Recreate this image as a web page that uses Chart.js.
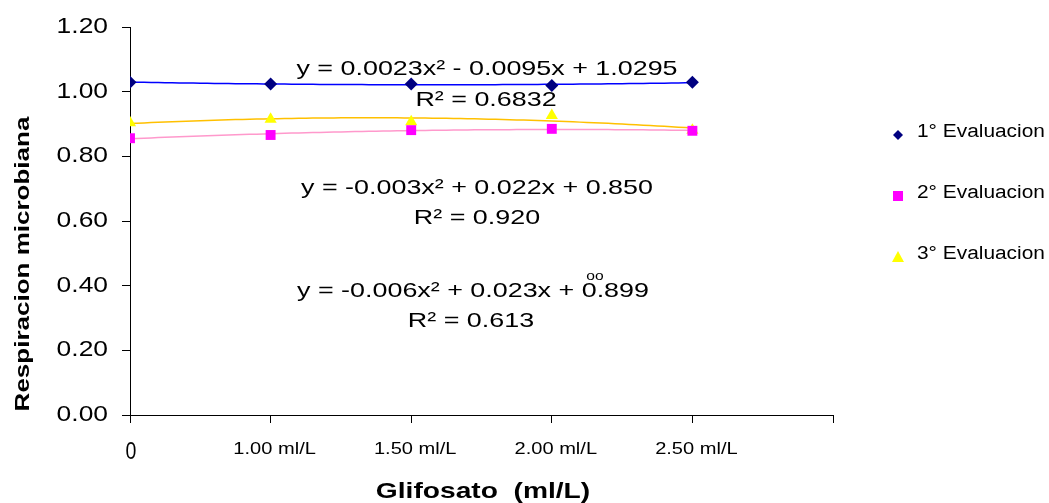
<!DOCTYPE html>
<html>
<head>
<meta charset="utf-8">
<script src="https://cdn.jsdelivr.net/npm/chart.js@4/dist/chart.umd.min.js"></script>
<style>
html, body { margin: 0; padding: 0; background: #fff; }
#wrap { width: 1049px; height: 503px; }
</style>
</head>
<body>
<div id="wrap"><canvas id="chart"></canvas></div>
<script>
// categories on the x axis (last slot is empty)
var categories = ["0", "1.00 ml/L", "1.50 ml/L", "2.00 ml/L", "2.50 ml/L", ""];
var seriesNames = ["1\u00b0 Evaluacion", "2\u00b0 Evaluacion", "3\u00b0 Evaluacion"];
var eval1 = [1.029, 1.024, 1.024, 1.019, 1.029];
var eval2 = [0.856, 0.866, 0.881, 0.885, 0.879];
var eval3 = [0.904, 0.915, 0.907, 0.926, 0.881];
var yTicks = [0, 0.2, 0.4, 0.6, 0.8, 1.0, 1.2];
var equations = [
  ["y = 0.0023x\u00b2 - 0.0095x + 1.0295", "R\u00b2 = 0.6832"],
  ["y = -0.003x\u00b2 + 0.022x + 0.850", "R\u00b2 = 0.920"],
  ["y = -0.006x\u00b2 + 0.023x + 0.899", "R\u00b2 = 0.613"]
];

var markColors = ["#000080", "#ff00ff", "#ffff00"];
var lineColors = ["#0000ff", "#ff99cc", "#ffc000"];
var FONT = "Arial, 'Liberation Sans', sans-serif";

// least squares quadratic through the points (x = category index)
function quadFit(ys) {
  var s = [0, 0, 0, 0, 0], t = [0, 0, 0];
  ys.forEach(function (y, x) {
    for (var k = 0; k < 5; k++) s[k] += Math.pow(x, k);
    for (var k = 0; k < 3; k++) t[k] += Math.pow(x, k) * y;
  });
  var m = [[s[0], s[1], s[2], t[0]], [s[1], s[2], s[3], t[1]], [s[2], s[3], s[4], t[2]]];
  for (var i = 0; i < 3; i++) {
    for (var j = i + 1; j < 3; j++) {
      var f = m[j][i] / m[i][i];
      for (var k = i; k < 4; k++) m[j][k] -= f * m[i][k];
    }
  }
  var c = [0, 0, 0];
  for (var i = 2; i >= 0; i--) {
    var v = m[i][3];
    for (var k = i + 1; k < 3; k++) v -= m[i][k] * c[k];
    c[i] = v / m[i][i];
  }
  return c;
}

function trend(ys) {
  var c = quadFit(ys), pts = [];
  for (var x = 0; x <= ys.length - 1 + 1e-9; x += 0.05) {
    pts.push({ x: x, y: c[0] + c[1] * x + c[2] * x * x });
  }
  return pts;
}

function pts(ys) {
  return ys.map(function (y, i) { return { x: i, y: y }; });
}

function txt(ctx, s, x, y, size, sx, sy, bold, align) {
  ctx.save();
  ctx.translate(x, y);
  ctx.scale(sx, sy);
  ctx.font = (bold ? "bold " : "") + size + "px " + FONT;
  ctx.textAlign = align || "center";
  ctx.textBaseline = "middle";
  ctx.fillStyle = "#000";
  ctx.fillText(s, 0, 0);
  ctx.restore();
}

function marker(ctx, i, x, y) {
  ctx.save();
  ctx.fillStyle = markColors[i];
  ctx.beginPath();
  if (i === 0) {
    ctx.moveTo(x, y - 5); ctx.lineTo(x + 5, y); ctx.lineTo(x, y + 5); ctx.lineTo(x - 5, y);
  } else if (i === 1) {
    ctx.rect(x - 5, y - 5, 10, 10);
  } else {
    ctx.moveTo(x, y - 6); ctx.lineTo(x + 6, y + 5); ctx.lineTo(x - 6, y + 5);
  }
  ctx.closePath();
  ctx.fill();
  ctx.restore();
}

var textPlugin = {
  id: "texts",
  afterDraw: function (chart) {
    var ctx = chart.ctx, xs = chart.scales.x, ys = chart.scales.y;
    yTicks.forEach(function (v) {
      txt(ctx, v.toFixed(2), 108, ys.getPixelForValue(v), 22, 1.2, 1, false, "right");
    });
    categories.forEach(function (c, i) {
      if (!c) return;
      var px = xs.getPixelForValue(i);
      if (i === 0) txt(ctx, c, px + 1, 453, 23, 0.85, 1, false);
      else txt(ctx, c, px + 4, 449, 17, 1.18, 1, false);
    });
    txt(ctx, "Glifosato  (ml/L)", 483, 492, 22, 1.28, 1, true);
    ctx.save();
    ctx.translate(23, 264);
    ctx.rotate(-Math.PI / 2);
    txt(ctx, "Respiracion microbiana", 0, 0, 20, 1.3, 1, true);
    ctx.restore();

    var eqPos = [[487, 69, 486, 100], [477, 188, 477, 218], [473, 291, 471, 321]];
    equations.forEach(function (e, i) {
      txt(ctx, e[0], eqPos[i][0], eqPos[i][1], 21, 1.28, 1, false);
      txt(ctx, e[1], eqPos[i][2], eqPos[i][3], 21, 1.28, 1, false);
    });
    txt(ctx, "oo", 595, 276, 13, 1.2, 1, false);

    seriesNames.forEach(function (n, i) {
      var y = 132 + i * 61;
      marker(ctx, i, 898, y + 3);
      txt(ctx, n, 917, y, 18, 1.16, 1, false, "left");
    });
  }
};

var axisGrid = {
  drawOnChartArea: false,
  drawTicks: true,
  tickLength: 8,
  color: "#000",
  lineWidth: 1
};

var datasets = [];
[eval1, eval2, eval3].forEach(function (ys, i) {
  datasets.push({
    label: seriesNames[i] + " trend",
    data: trend(ys),
    showLine: true,
    borderColor: lineColors[i],
    borderWidth: 1.5,
    pointRadius: 0,
    order: 10 + i
  });
});
var pointStyles = ["rectRot", "rect", "triangle"];
var pointRadii = [6.5, 7, 7];
var pointOrder = [0, 1, 2];
[eval1, eval2, eval3].forEach(function (ys, i) {
  datasets.push({
    label: seriesNames[i],
    data: pts(ys),
    showLine: false,
    pointStyle: pointStyles[i],
    pointRadius: pointRadii[i],
    pointBackgroundColor: markColors[i],
    pointBorderColor: markColors[i],
    pointBorderWidth: 0,
    order: pointOrder[i]
  });
});

var chart = new Chart(document.getElementById("chart"), {
  type: "scatter",
  data: { datasets: datasets },
  options: {
    responsive: true,
    maintainAspectRatio: false,
    animation: false,
    layout: { padding: { left: 60, right: 216, top: 27, bottom: 0 } },
    plugins: { legend: { display: false }, tooltip: { enabled: false } },
    scales: {
      x: {
        type: "linear",
        min: 0,
        max: categories.length - 1,
        ticks: { display: false, stepSize: 1 },
        grid: axisGrid,
        border: { display: true, color: "#000", width: 1 },
        afterFit: function (s) { s.height = 88; }
      },
      y: {
        min: 0,
        max: 1.2,
        ticks: { display: false, stepSize: 0.2 },
        grid: axisGrid,
        border: { display: true, color: "#000", width: 1 },
        afterFit: function (s) { s.width = 70; }
      }
    }
  },
  plugins: [textPlugin]
});
</script>
</body>
</html>
